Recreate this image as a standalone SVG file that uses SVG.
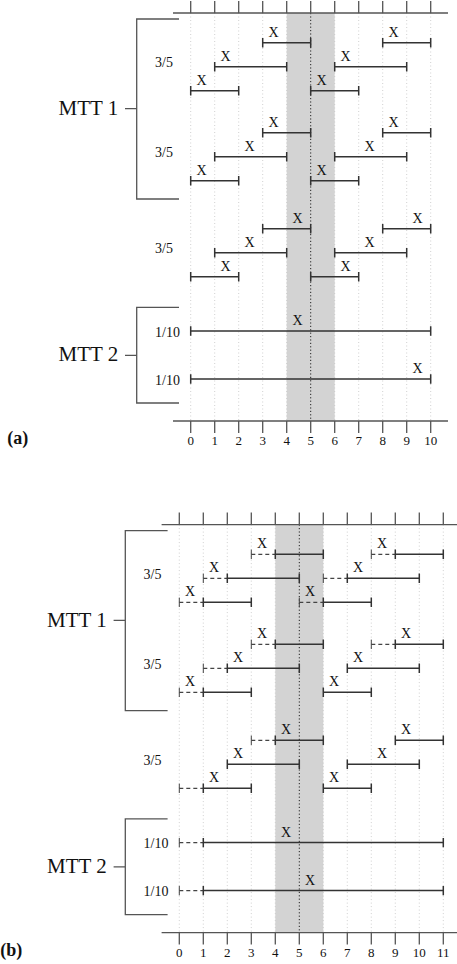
<svg xmlns="http://www.w3.org/2000/svg" width="457" height="964" viewBox="0 0 457 964">
<defs>
<style>
.band{fill:#d3d3d3}
.grid{fill:none;stroke:#c4c4c4;stroke-width:0.8;stroke-dasharray:1,2.5}
.mid{fill:none;stroke:#222;stroke-width:1;stroke-dasharray:1.2,2.2}
.ax{fill:none;stroke:#555;stroke-width:1.3}
.br{fill:none;stroke:#555;stroke-width:1.3}
.bar{fill:none;stroke:#333;stroke-width:1.5}
.dash{fill:none;stroke:#444;stroke-width:1.2;stroke-dasharray:4,3}
.dcap{fill:none;stroke:#444;stroke-width:1}
text{font-family:"Liberation Serif","Times New Roman",serif;fill:#111}
.x{font-size:14px;text-anchor:middle}
.tl{font-size:13px;text-anchor:middle}
.rt{font-size:14px}
.mtt{font-size:21px;text-anchor:end}
.pl{font-size:18px;font-weight:bold}
</style>
</defs>

<!-- Panel (a) -->
<g id="panel-a" transform="translate(190.7,0)">
  <rect class="band" x="96" y="13" width="48" height="408"/>
  <path class="grid" d="M0,13V421M24,13V421M48,13V421M72,13V421M96,13V421M144,13V421M168,13V421M192,13V421M216,13V421M240,13V421"/>
  <path class="mid" d="M120,13V421"/>
  <g id="a-axis-top">
    <path class="ax" d="M-17.7,13H257.3M0,1V13M24,1V13M48,1V13M72,1V13M96,1V13M120,1V13M144,1V13M168,1V13M192,1V13M216,1V13M240,1V13"/>
  </g>
  <g id="a-axis-bottom">
    <path class="ax" d="M-17.7,421H257.3M0,421V433M24,421V433M48,421V433M72,421V433M96,421V433M120,421V433M144,421V433M168,421V433M192,421V433M216,421V433M240,421V433"/>
    <text class="tl" x="0" y="445">0</text><text class="tl" x="24" y="445">1</text><text class="tl" x="48" y="445">2</text><text class="tl" x="72" y="445">3</text><text class="tl" x="96" y="445">4</text><text class="tl" x="120" y="445">5</text><text class="tl" x="144" y="445">6</text><text class="tl" x="168" y="445">7</text><text class="tl" x="192" y="445">8</text><text class="tl" x="216" y="445">9</text><text class="tl" x="240" y="445">10</text>
  </g>
  <g id="a-mtt1">
    <path class="br" d="M-11.7,19H-54V199H-11.7M-65.7,108.7H-54"/>
    <text class="mtt" x="-72.5" y="115">MTT 1</text>
  </g>
  <g id="a-mtt2">
    <path class="br" d="M-11.7,307.3H-54V403H-11.7M-65.7,355.3H-54"/>
    <text class="mtt" x="-72.5" y="361">MTT 2</text>
  </g>
  <g id="a-labels">
    <text class="rt" x="-35.7" y="67">3/5</text>
    <text class="rt" x="-35.7" y="157">3/5</text>
    <text class="rt" x="-35.7" y="253">3/5</text>
    <text class="rt" x="-35.7" y="336.5">1/10</text>
    <text class="rt" x="-35.7" y="384.5">1/10</text>
  </g>
  <g id="a-intervals">
    <path class="bar" d="M72,38v9.4m0,-4.7H120m0,-4.7v9.4M192,38v9.4m0,-4.7H240m0,-4.7v9.4"/>
    <path class="bar" d="M24,62v9.4m0,-4.7H96m0,-4.7v9.4M144,62v9.4m0,-4.7H216m0,-4.7v9.4"/>
    <path class="bar" d="M0,86v9.4m0,-4.7H48m0,-4.7v9.4M120,86v9.4m0,-4.7H168m0,-4.7v9.4"/>
    <path class="bar" d="M72,128v9.4m0,-4.7H120m0,-4.7v9.4M192,128v9.4m0,-4.7H240m0,-4.7v9.4"/>
    <path class="bar" d="M24,152v9.4m0,-4.7H96m0,-4.7v9.4M144,152v9.4m0,-4.7H216m0,-4.7v9.4"/>
    <path class="bar" d="M0,176v9.4m0,-4.7H48m0,-4.7v9.4M120,176v9.4m0,-4.7H168m0,-4.7v9.4"/>
    <path class="bar" d="M72,224v9.4m0,-4.7H120m0,-4.7v9.4M192,224v9.4m0,-4.7H240m0,-4.7v9.4"/>
    <path class="bar" d="M24,248v9.4m0,-4.7H96m0,-4.7v9.4M144,248v9.4m0,-4.7H216m0,-4.7v9.4"/>
    <path class="bar" d="M0,272v9.4m0,-4.7H48m0,-4.7v9.4M120,272v9.4m0,-4.7H168m0,-4.7v9.4"/>
    <path class="bar" d="M0,326.3v9.4m0,-4.7H240m0,-4.7v9.4"/>
    <path class="bar" d="M0,374.3v9.4m0,-4.7H240m0,-4.7v9.4"/>
  </g>
  <g id="a-marks">
    <text class="x" x="82.8" y="36.7">X</text><text class="x" x="202.8" y="36.7">X</text>
    <text class="x" x="34.8" y="60.7">X</text><text class="x" x="154.8" y="60.7">X</text>
    <text class="x" x="10.8" y="84.7">X</text><text class="x" x="130.8" y="84.7">X</text>
    <text class="x" x="82.8" y="126.7">X</text><text class="x" x="202.8" y="126.7">X</text>
    <text class="x" x="58.8" y="150.7">X</text><text class="x" x="178.8" y="150.7">X</text>
    <text class="x" x="10.8" y="174.7">X</text><text class="x" x="130.8" y="174.7">X</text>
    <text class="x" x="106.8" y="222.7">X</text><text class="x" x="226.8" y="222.7">X</text>
    <text class="x" x="58.8" y="246.7">X</text><text class="x" x="178.8" y="246.7">X</text>
    <text class="x" x="34.8" y="270.7">X</text><text class="x" x="154.8" y="270.7">X</text>
    <text class="x" x="106.8" y="325">X</text>
    <text class="x" x="226.8" y="373">X</text>
  </g>
  <text class="pl" x="-183.4" y="444">(a)</text>
</g>

<!-- Panel (b) -->
<g id="panel-b" transform="translate(179.3,511.6)">
  <rect class="band" x="96" y="13" width="48" height="408"/>
  <path class="grid" d="M0,13V421M24,13V421M48,13V421M72,13V421M96,13V421M144,13V421M168,13V421M192,13V421M216,13V421M240,13V421M264,13V421"/>
  <path class="mid" d="M120,13V421"/>
  <g id="b-axis-top">
    <path class="ax" d="M-17.7,13H280M0,1V13M24,1V13M48,1V13M72,1V13M96,1V13M120,1V13M144,1V13M168,1V13M192,1V13M216,1V13M240,1V13M264,1V13"/>
  </g>
  <g id="b-axis-bottom">
    <path class="ax" d="M-17.7,421H280M0,421V433M24,421V433M48,421V433M72,421V433M96,421V433M120,421V433M144,421V433M168,421V433M192,421V433M216,421V433M240,421V433M264,421V433"/>
    <text class="tl" x="0" y="445">0</text><text class="tl" x="24" y="445">1</text><text class="tl" x="48" y="445">2</text><text class="tl" x="72" y="445">3</text><text class="tl" x="96" y="445">4</text><text class="tl" x="120" y="445">5</text><text class="tl" x="144" y="445">6</text><text class="tl" x="168" y="445">7</text><text class="tl" x="192" y="445">8</text><text class="tl" x="216" y="445">9</text><text class="tl" x="240" y="445">10</text><text class="tl" x="264" y="445">11</text>
  </g>
  <g id="b-mtt1">
    <path class="br" d="M-11.7,19H-54V199H-11.7M-65.7,108.7H-54"/>
    <text class="mtt" x="-72.5" y="115">MTT 1</text>
  </g>
  <g id="b-mtt2">
    <path class="br" d="M-11.7,307.3H-54V403H-11.7M-65.7,355.3H-54"/>
    <text class="mtt" x="-72.5" y="361">MTT 2</text>
  </g>
  <g id="b-labels">
    <text class="rt" x="-35.7" y="67">3/5</text>
    <text class="rt" x="-35.7" y="157">3/5</text>
    <text class="rt" x="-35.7" y="253">3/5</text>
    <text class="rt" x="-35.7" y="336.5">1/10</text>
    <text class="rt" x="-35.7" y="384.5">1/10</text>
  </g>
  <g id="b-intervals">
    <path class="dash" d="M72,42.7H96M192,42.7H216M24,66.7H48M144,66.7H168M0,90.7H24M120,90.7H144M72,132.7H96M192,132.7H216M24,156.7H48M0,180.7H24M72,228.7H96M0,276.7H24M0,331H24M0,379H24"/>
    <path class="dcap" d="M72,38v9.4M192,38v9.4M24,62v9.4M144,62v9.4M0,86v9.4M120,86v9.4M72,128v9.4M192,128v9.4M24,152v9.4M0,176v9.4M72,224v9.4M0,272v9.4M0,326.3v9.4M0,374.3v9.4"/>
    <path class="bar" d="M96,38v9.4m0,-4.7H144m0,-4.7v9.4M216,38v9.4m0,-4.7H264m0,-4.7v9.4"/>
    <path class="bar" d="M48,62v9.4m0,-4.7H120m0,-4.7v9.4M168,62v9.4m0,-4.7H240m0,-4.7v9.4"/>
    <path class="bar" d="M24,86v9.4m0,-4.7H72m0,-4.7v9.4M144,86v9.4m0,-4.7H192m0,-4.7v9.4"/>
    <path class="bar" d="M96,128v9.4m0,-4.7H144m0,-4.7v9.4M216,128v9.4m0,-4.7H264m0,-4.7v9.4"/>
    <path class="bar" d="M48,152v9.4m0,-4.7H120m0,-4.7v9.4M168,152v9.4m0,-4.7H240m0,-4.7v9.4"/>
    <path class="bar" d="M24,176v9.4m0,-4.7H72m0,-4.7v9.4M144,176v9.4m0,-4.7H192m0,-4.7v9.4"/>
    <path class="bar" d="M96,224v9.4m0,-4.7H144m0,-4.7v9.4M216,224v9.4m0,-4.7H264m0,-4.7v9.4"/>
    <path class="bar" d="M48,248v9.4m0,-4.7H120m0,-4.7v9.4M168,248v9.4m0,-4.7H240m0,-4.7v9.4"/>
    <path class="bar" d="M24,272v9.4m0,-4.7H72m0,-4.7v9.4M144,272v9.4m0,-4.7H192m0,-4.7v9.4"/>
    <path class="bar" d="M24,326.3v9.4m0,-4.7H264m0,-4.7v9.4"/>
    <path class="bar" d="M24,374.3v9.4m0,-4.7H264m0,-4.7v9.4"/>
  </g>
  <g id="b-marks">
    <text class="x" x="82.8" y="36.7">X</text><text class="x" x="202.8" y="36.7">X</text>
    <text class="x" x="34.8" y="60.7">X</text><text class="x" x="178.8" y="60.7">X</text>
    <text class="x" x="10.8" y="84.7">X</text><text class="x" x="130.8" y="84.7">X</text>
    <text class="x" x="82.8" y="126.7">X</text><text class="x" x="226.8" y="126.7">X</text>
    <text class="x" x="58.8" y="150.7">X</text><text class="x" x="178.8" y="150.7">X</text>
    <text class="x" x="10.8" y="174.7">X</text><text class="x" x="154.8" y="174.7">X</text>
    <text class="x" x="106.8" y="222.7">X</text><text class="x" x="226.8" y="222.7">X</text>
    <text class="x" x="58.8" y="246.7">X</text><text class="x" x="202.8" y="246.7">X</text>
    <text class="x" x="34.8" y="270.7">X</text><text class="x" x="154.8" y="270.7">X</text>
    <text class="x" x="106.8" y="325">X</text>
    <text class="x" x="130.8" y="373">X</text>
  </g>
  <text class="pl" x="-179" y="444">(b)</text>
</g>
</svg>
